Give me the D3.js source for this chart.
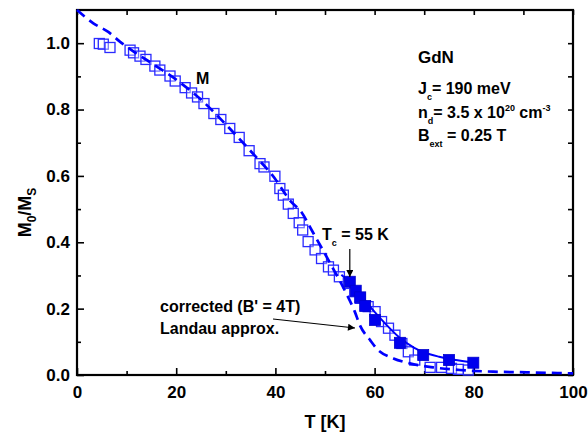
<!DOCTYPE html>
<html>
<head>
<meta charset="utf-8">
<script src="https://cdn.jsdelivr.net/npm/d3@7"></script>
<style>
  html, body { margin: 0; padding: 0; background: #fff; }
  svg text { font-family: "Liberation Sans", Arial, sans-serif; font-weight: bold; fill: #000; }
</style>
</head>
<body>
<svg id="chart" width="588" height="435"></svg>
<script>
// Measured reduced magnetisation (open squares)
const openT = [4.5, 5.3, 6.65, 10.7, 11.4, 12.7, 13.9, 15.7, 16.7, 18.75, 19.8, 21.8, 23.1, 24.3,
  25.6, 27.6, 29.0, 30.8, 32.7, 34.7, 36.9, 37.7, 39.9, 40.9, 41.6, 42.6, 43.6, 44.8, 45.5,
  46.6, 48.0, 49.3, 50.7, 51.7, 52.9, 54.7, 56.0, 57.1, 58.7, 60.1, 61.4, 62.8, 64.1, 65.5,
  66.8, 68.1, 71.2, 73.5, 75.5, 76.9, 78.9];
const openM = [0.999, 0.997, 0.987, 0.979, 0.971, 0.961, 0.951, 0.931, 0.919, 0.901, 0.886, 0.866,
  0.850, 0.838, 0.818, 0.788, 0.770, 0.743, 0.716, 0.676, 0.637, 0.627, 0.599, 0.562, 0.542,
  0.515, 0.487, 0.459, 0.437, 0.402, 0.377, 0.351, 0.326, 0.316, 0.296, 0.276, 0.251, 0.231,
  0.206, 0.191, 0.161, 0.141, 0.120, 0.095, 0.070, 0.045, 0.023, 0.023, 0.020, 0.017, 0.015];

// Values above Tc (filled squares)
const filledT = [55.0, 56.2, 57.1, 58.1, 60.1, 65.1, 69.8, 75.0, 79.9];
const filledM = [0.281, 0.254, 0.234, 0.208, 0.166, 0.097, 0.060, 0.045, 0.037];

// Corrected (B' = 4T) curve, solid
const fitT = [53.3, 55, 57, 60, 62, 65, 68, 70, 73, 76, 80];
const fitM = [0.302, 0.278, 0.243, 0.190, 0.157, 0.113, 0.082, 0.068, 0.055, 0.046, 0.038];

// Landau approximation, dashed
const landauT = [0, 3.3, 6.3, 8.7, 11, 15, 20, 25, 30, 35, 40, 43, 45.3, 47.3, 50.7, 53.6, 56,
  57.1, 59.1, 60.4, 63.8, 67.1, 71.8, 77.2, 83.9, 90.7, 100];
const landauM = [1.1, 1.06, 1.034, 1.004, 0.979, 0.94, 0.89, 0.83, 0.755, 0.675, 0.59, 0.525,
  0.49, 0.437, 0.346, 0.266, 0.191, 0.148, 0.105, 0.08, 0.05, 0.035, 0.023, 0.015, 0.01,
  0.008, 0.005];

const xMajor = [0, 20, 40, 60, 80, 100];
const xMinor = [10, 30, 50, 70, 90];
const yMajor = [0.0, 0.2, 0.4, 0.6, 0.8, 1.0];
const yMinor = [0.1, 0.3, 0.5, 0.7, 0.9];

const svg = d3.select("#chart");
const L = 77, R = 573, T = 10, B = 375;
const x = d3.scaleLinear().domain([0, 100]).range([L, R]);
const y = d3.scaleLinear().domain([0, 1.1]).range([B, T]);

const blue = "#0000ff";

// axes with inward ticks on all four sides
function styleAxis(g) {
  g.select(".domain").remove();
  g.selectAll(".tick line").attr("stroke", "#000").attr("stroke-width", 1.6);
  g.selectAll("text").attr("font-size", 17).attr("font-family", "Liberation Sans, Arial, sans-serif")
    .attr("font-weight", "bold").attr("fill", "#000");
}
svg.append("g").attr("transform", `translate(0,${B})`)
  .call(d3.axisBottom(x).tickValues(xMajor).tickSize(-7).tickPadding(11).tickFormat(d3.format("d")))
  .call(styleAxis);
svg.append("g").attr("transform", `translate(0,${B})`)
  .call(d3.axisBottom(x).tickValues(xMinor).tickSize(-4).tickFormat(""))
  .call(styleAxis);
svg.append("g").attr("transform", `translate(0,${T})`)
  .call(d3.axisTop(x).tickValues(xMajor.concat(xMinor)).tickSize(-5).tickFormat(""))
  .call(styleAxis);
svg.append("g").attr("transform", `translate(${L},0)`)
  .call(d3.axisLeft(y).tickValues(yMajor).tickSize(-7).tickPadding(7).tickFormat(d3.format(".1f")))
  .call(styleAxis);
svg.append("g").attr("transform", `translate(${L},0)`)
  .call(d3.axisLeft(y).tickValues(yMinor).tickSize(-4).tickFormat(""))
  .call(styleAxis);
svg.append("g").attr("transform", `translate(${R},0)`)
  .call(d3.axisRight(y).tickValues(yMajor.concat(yMinor)).tickSize(-5).tickFormat(""))
  .call(styleAxis);

// frame
svg.append("rect").attr("x", L).attr("y", T).attr("width", R - L).attr("height", B - T)
  .attr("fill", "none").attr("stroke", "#000").attr("stroke-width", 2.2);

const line = d3.line().x(d => x(d[0])).y(d => y(d[1])).curve(d3.curveMonotoneX);

// open squares
const sq = 10;
svg.append("g").selectAll("rect").data(d3.zip(openT, openM)).join("rect")
  .attr("x", d => x(d[0]) - sq / 2).attr("y", d => y(d[1]) - sq / 2)
  .attr("width", sq).attr("height", sq)
  .attr("fill", "#fff").attr("fill-opacity", 0.35)
  .attr("stroke", "#2a2aff").attr("stroke-width", 1.3);

// Landau approximation
svg.append("path").datum(d3.zip(landauT, landauM)).attr("d", line)
  .attr("fill", "none").attr("stroke", blue).attr("stroke-width", 2.7)
  .attr("stroke-dasharray", "10,6");

// corrected curve
svg.append("path").datum(d3.zip(fitT, fitM)).attr("d", line)
  .attr("fill", "none").attr("stroke", blue).attr("stroke-width", 2);

// filled squares
const fs = 11;
svg.append("g").selectAll("rect").data(d3.zip(filledT, filledM)).join("rect")
  .attr("x", d => x(d[0]) - fs / 2).attr("y", d => y(d[1]) - fs / 2)
  .attr("width", fs).attr("height", fs)
  .attr("fill", "#0000ee").attr("stroke", "#0000cc").attr("stroke-width", 0.8);

// axis titles
svg.append("text").attr("x", (L + R) / 2).attr("y", 428)
  .attr("text-anchor", "middle").attr("font-size", 18).text("T [K]");

const yt = svg.append("text").attr("transform", `translate(31,${(T + B) / 2 + 20}) rotate(-90)`)
  .attr("text-anchor", "middle").attr("font-size", 18);
yt.append("tspan").text("M");
yt.append("tspan").attr("font-size", 12).attr("dy", 5).text("0");
yt.append("tspan").attr("dy", -5).text("/M");
yt.append("tspan").attr("font-size", 12).attr("dy", 5).text("S");

// annotations
function label(xp, yp, parts, size) {
  const t = svg.append("text").attr("x", xp).attr("y", yp).attr("font-size", size);
  let shift = 0;
  parts.forEach(p => {
    const dy = (p.sub ? 6 : p.sup ? -7 : 0) - shift;
    shift += dy;
    t.append("tspan").attr("dy", dy).attr("font-size", p.sub || p.sup ? 9 : size).text(p.t);
  });
  return t;
}
label(196, 84, [{t: "M"}], 16);
label(418, 63, [{t: "GdN"}], 17);
label(418, 94, [{t: "J"}, {t: "c", sub: true}, {t: "= 190 meV"}], 16);
label(418, 118, [{t: "n"}, {t: "d", sub: true}, {t: "= 3.5 x 10"}, {t: "20", sup: true}, {t: " cm"}, {t: "-3", sup: true}], 16);
label(418, 141, [{t: "B"}, {t: "ext", sub: true}, {t: " = 0.25 T"}], 16);
label(322, 240, [{t: "T"}, {t: "c", sub: true}, {t: " = 55 K"}], 16);
label(160, 312, [{t: "corrected (B' = 4T)"}], 16);
label(160, 334, [{t: "Landau approx."}], 16);

// arrows
const defs = svg.append("defs");
defs.append("marker").attr("id", "ah").attr("viewBox", "0 0 10 10").attr("refX", 10).attr("refY", 5)
  .attr("markerWidth", 9).attr("markerHeight", 7).attr("markerUnits", "userSpaceOnUse")
  .attr("orient", "auto").append("path").attr("d", "M0,0 L10,5 L0,10 z").attr("fill", "#000");
svg.append("line").attr("x1", x(55)).attr("y1", 249).attr("x2", x(55)).attr("y2", y(0.283) - 4)
  .attr("stroke", "#000").attr("stroke-width", 1.2).attr("marker-end", "url(#ah)");
svg.append("line").attr("x1", 273).attr("y1", 319).attr("x2", 355).attr("y2", 328)
  .attr("stroke", "#000").attr("stroke-width", 1.2).attr("marker-end", "url(#ah)");
</script>
</body>
</html>
